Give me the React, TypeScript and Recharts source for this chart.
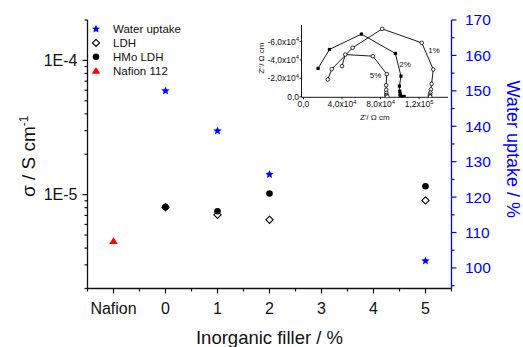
import { ScatterChart, Scatter, XAxis, YAxis, Legend, Label, ReferenceDot } from "recharts"

const FONT = '"Liberation Sans", Arial, Helvetica, sans-serif'
const BLUE = "#0000ff"
const RED = "#ff0000"
const INK = "#111111"

// main chart: x = inorganic filler %, -1 is the Nafion reference
const fillerTicks = [-1, 0, 1, 2, 3, 4, 5]
const fillerLabels = ["Nafion", "0", "1", "2", "3", "4", "5"]

const fillerPct = [0, 1, 2, 5]
const waterUptake = [150, 138.7, 126.4, 102]
const ldhSigma = [8.07e-6, 7.08e-6, 6.5e-6, 9.06e-6]
const hmoSigma = [8.1e-6, 7.53e-6, 1.02e-5, 1.155e-5]
const nafionPos = [-1]
const nafionSigma = [4.52e-6]

const seriesNames = ["Water uptake", "LDH", "HMo LDH", "Nafion 112"]

const sigmaMajor = [1e-5, 1e-4]
const sigmaLabels = ["1E-5", "1E-4"]
const uptakeMajor = [100, 110, 120, 130, 140, 150, 160, 170]

// inset: Nyquist plots (Z', -Z'')
const re1 = [25300, 29400, 51000, 81700, 122800, 134700, 133000, 132300, 131800, 131400, 131200, 131500]
const im1 = [18800, 30000, 53200, 73800, 58600, 29700, 14000, 8000, 4500, 2200, 900, 200]
const re2 = [15200, 27000, 60200, 95400, 101200, 99600, 99900, 100300, 100500, 101000, 102500, 104500]
const im2 = [30800, 51400, 68100, 47100, 22400, 11600, 6000, 3000, 1200, 400, 200, 300]
const re5 = [40000, 43400, 72100, 86500, 85800, 85900, 86000, 86100, 86300, 87000]
const im5 = [33300, 45900, 44100, 24600, 12500, 7500, 4200, 2000, 800, 200]
const insetReTicks = [0, 40000, 80000, 120000]
const insetImTicks = [0, 20000, 40000, 60000]
const curveLabels = ["1%", "2%", "5%"]
const curveLabelRe = [135500, 105500, 74800]
const curveLabelIm = [50600, 35400, 23500]

const pts = (xs: number[], ys: number[]) => xs.map((x, i) => ({ x, y: ys[i] }))

const xTicks = Array.from({ length: 15 }, (_, i) => -1.5 + i * 0.5)
const sigmaTicks = [1e-6, 1e-5, 1e-4]
  .flatMap((d) => [1, 2, 3, 4, 5, 6, 7, 8, 9].map((m) => m * d))
  .filter((v) => v >= 1.99e-6 && v <= 2.01e-4)
const uptakeTicks = Array.from({ length: 16 }, (_, i) => 95 + i * 5)

function star(cx: number, cy: number, r: number, fill: string) {
  const p: string[] = []
  for (let i = 0; i < 10; i++) {
    const rr = i % 2 === 0 ? r : r * 0.45
    const a = -Math.PI / 2 + (i * Math.PI) / 5
    p.push(`${cx + rr * Math.cos(a)},${cy + rr * Math.sin(a)}`)
  }
  return <polygon points={p.join(" ")} fill={fill} />
}
const diamond = (cx: number, cy: number, r: number) => (
  <path d={`M${cx},${cy - r}L${cx + r},${cy}L${cx},${cy + r}L${cx - r},${cy}Z`} fill="#fff" stroke="#000" strokeWidth={1.1} />
)
const dot = (cx: number, cy: number, r: number) => <circle cx={cx} cy={cy} r={r} fill="#000" />
const triangle = (cx: number, cy: number, fill: string) => (
  <path d={`M${cx},${cy - 3.8}L${cx + 4.3},${cy + 3}L${cx - 4.3},${cy + 3}Z`} fill={fill} />
)

const markerFor = (name: string, cx: number, cy: number) => {
  if (name === "Water uptake") return star(cx, cy, 4.4, BLUE)
  if (name === "LDH") return diamond(cx, cy, 3.6)
  if (name === "HMo LDH") return dot(cx, cy, 3.3)
  return triangle(cx, cy, RED)
}

function FillerTick(props: any) {
  const { x, y, payload } = props
  const v = payload.value
  const major = Number.isInteger(v)
  const i = fillerTicks.indexOf(v)
  return (
    <g>
      <line x1={x} x2={x} y1={y} y2={y + (major ? 5 : 3)} stroke={INK} strokeWidth={1.2} />
      {i >= 0 && (
        <text x={x} y={y + 25} textAnchor="middle" fontSize={16} fontFamily={FONT} fill={INK}>
          {fillerLabels[i]}
        </text>
      )}
    </g>
  )
}

function TopTick(props: any) {
  const { x, y, payload } = props
  const major = Number.isInteger(payload.value)
  return <line x1={x} x2={x} y1={y} y2={y - (major ? 4 : 2.5)} stroke={INK} strokeWidth={1.1} />
}

function SigmaTick(props: any) {
  const { x, y, payload } = props
  const i = sigmaMajor.findIndex((m) => Math.abs(m - payload.value) < m * 1e-6)
  return (
    <g>
      <line x1={x - (i >= 0 ? 5 : 3)} x2={x} y1={y} y2={y} stroke={INK} strokeWidth={1.2} />
      {i >= 0 && (
        <text x={x - 10} y={y} dy="0.35em" textAnchor="end" fontSize={16} fontFamily={FONT} fill={INK}>
          {sigmaLabels[i]}
        </text>
      )}
    </g>
  )
}

function UptakeTick(props: any) {
  const { x, y, payload } = props
  const major = uptakeMajor.includes(payload.value)
  return (
    <g>
      <line x1={x} x2={x + (major ? 5 : 3)} y1={y} y2={y} stroke={BLUE} strokeWidth={1.2} />
      {major && (
        <text x={x + 13.5} y={y} dy="0.35em" textAnchor="start" fontSize={15.5} fontFamily={FONT} fill={BLUE}>
          {payload.value}
        </text>
      )}
    </g>
  )
}

function sci(v: number, neg: boolean) {
  if (v === 0) return { mant: "0,0", exp: "" }
  const e = Math.floor(Math.log10(v))
  const m = (v / Math.pow(10, e)).toFixed(1).replace(".", ",")
  return { mant: `${neg ? "-" : ""}${m}x10`, exp: String(e) }
}

function InsetXTick(props: any) {
  const { x, y, payload } = props
  const s = sci(payload.value, false)
  return (
    <g>
      <line x1={x} x2={x} y1={y} y2={y + 2} stroke="#000" strokeWidth={0.8} />
      <text x={x} y={y + 10} textAnchor="middle" fontSize={8.5} fontFamily={FONT} fill={INK}>
        {s.mant}
        {s.exp && (
          <tspan dy={-3.5} fontSize={5.8}>
            {s.exp}
          </tspan>
        )}
      </text>
    </g>
  )
}

function InsetYTick(props: any) {
  const { x, y, payload } = props
  const s = sci(payload.value, true)
  return (
    <g>
      <line x1={x - 2} x2={x} y1={y} y2={y} stroke="#000" strokeWidth={0.8} />
      <text x={x - 2.5} y={y} dy="0.35em" textAnchor="end" fontSize={8.5} fontFamily={FONT} fill={INK}>
        {s.mant}
        {s.exp && (
          <tspan dy={-3.5} fontSize={5.8}>
            {s.exp}
          </tspan>
        )}
      </text>
    </g>
  )
}

function LegendBox(props: any) {
  const items = [...(props.payload || [])].sort(
    (a: any, b: any) => seriesNames.indexOf(a.value) - seriesNames.indexOf(b.value)
  )
  return (
    <svg width={120} height={62}>
      {items.map((it: any, i: number) => {
        const cy = 9 + i * 13.9
        return (
          <g key={it.value}>
            {markerFor(it.value, 8, cy)}
            <text x={25} y={cy} dy="0.35em" fontSize={11.5} fontFamily={FONT} fill={INK}>
              {it.value}
            </text>
          </g>
        )
      })}
    </svg>
  )
}

function Inset() {
  const openCircle = (p: any) => <circle cx={p.cx} cy={p.cy} r={1.8} fill="#fff" stroke="#000" strokeWidth={0.8} />
  const square = (p: any) => <rect x={p.cx - 1.6} y={p.cy - 1.6} width={3.2} height={3.2} fill="#000" />
  return (
    <ScatterChart width={215} height={120} margin={{ top: 15, right: 7, bottom: 0, left: 0 }}>
      <XAxis
        type="number"
        dataKey="x"
        domain={[-2000, 150000]}
        ticks={insetReTicks}
        interval={0}
        tickSize={0}
        tickMargin={0}
        tick={InsetXTick}
        axisLine={{ stroke: "#000", strokeWidth: 0.9 }}
        height={32.7}
        allowDataOverflow
      >
        <Label
          content={(p: any) => {
            const vb = p.viewBox
            return (
              <text x={vb.x + vb.width / 2} y={vb.y + 22.7} textAnchor="middle" fontSize={8} fontFamily={FONT} fill={INK}>
                Z'/ Ω cm
              </text>
            )
          }}
        />
      </XAxis>
      <XAxis xAxisId="t" orientation="top" type="number" domain={[-2000, 150000]} height={0} tick={false} tickLine={false} axisLine={{ stroke: "#000", strokeWidth: 0.9 }} allowDataOverflow />
      <YAxis
        type="number"
        dataKey="y"
        domain={[-600, 78000]}
        ticks={insetImTicks}
        interval={0}
        tickSize={0}
        tickMargin={0}
        tick={InsetYTick}
        axisLine={{ stroke: "#000", strokeWidth: 0.9 }}
        width={61.5}
        allowDataOverflow
      >
        <Label
          content={(p: any) => {
            const vb = p.viewBox
            const cx = vb.x + 21
            const cy = vb.y + vb.height / 2 - 3
            return (
              <text x={cx} y={cy} dy="0.35em" transform={`rotate(-90 ${cx} ${cy})`} textAnchor="middle" fontSize={8} fontFamily={FONT} fill={INK}>
                Z''/ Ω cm
              </text>
            )
          }}
        />
      </YAxis>
      <YAxis yAxisId="r" orientation="right" type="number" domain={[-600, 78000]} width={0} tick={false} tickLine={false} axisLine={{ stroke: "#000", strokeWidth: 0.9 }} allowDataOverflow />
      <Scatter data={pts(re1, im1)} line={{ stroke: "#000", strokeWidth: 0.9 }} shape={openCircle} isAnimationActive={false} />
      <Scatter data={pts(re2, im2)} line={{ stroke: "#000", strokeWidth: 0.9 }} shape={square} isAnimationActive={false} />
      <Scatter data={pts(re5, im5)} line={{ stroke: "#000", strokeWidth: 0.9 }} shape={openCircle} isAnimationActive={false} />
      {curveLabels.map((t, i) => (
        <ReferenceDot
          key={t}
          x={curveLabelRe[i]}
          y={curveLabelIm[i]}
          r={0}
          shape={(p: any) => (
            <text x={p.cx} y={p.cy} dy="0.35em" textAnchor="middle" fontSize={8} fontFamily={FONT} fill={INK}>
              {t}
            </text>
          )}
        />
      ))}
    </ScatterChart>
  )
}

export default function App() {
  return (
    <div style={{ position: "absolute", left: 0, top: 0, width: 523, height: 347, background: "#fff" }}>
      <ScatterChart width={523} height={347} margin={{ top: 20, right: 0, bottom: 0, left: 0 }}>
        <XAxis
          type="number"
          dataKey="x"
          domain={[-1.5, 5.5]}
          ticks={xTicks}
          interval={0}
          tickSize={0}
          tickMargin={0}
          tick={FillerTick}
          axisLine={{ stroke: INK, strokeWidth: 1.3 }}
          height={58.5}
          allowDataOverflow
        >
          <Label
            content={(p: any) => {
              const vb = p.viewBox
              return (
                <text x={vb.x + vb.width / 2} y={vb.y + 55.5} textAnchor="middle" fontSize={18.5} fontFamily={FONT} fill={INK}>
                  Inorganic filler / %
                </text>
              )
            }}
          />
        </XAxis>
        <XAxis
          xAxisId="top"
          orientation="top"
          type="number"
          domain={[-1.5, 5.5]}
          ticks={xTicks}
          interval={0}
          tickSize={0}
          tickMargin={0}
          tick={TopTick}
          axisLine={{ stroke: INK, strokeWidth: 1.3 }}
          height={0}
          allowDataOverflow
        />
        <YAxis
          yAxisId="s"
          type="number"
          dataKey="y"
          scale="log"
          domain={[2e-6, 2e-4]}
          ticks={sigmaTicks}
          interval={0}
          tickSize={0}
          tickMargin={0}
          tick={SigmaTick}
          axisLine={{ stroke: INK, strokeWidth: 1.3 }}
          width={87.5}
          allowDataOverflow
        >
          <Label
            content={(p: any) => {
              const vb = p.viewBox
              const cx = vb.x + 28
              const cy = vb.y + vb.height / 2 + 2
              return (
                <text x={cx} y={cy} dy="0.35em" transform={`rotate(-90 ${cx} ${cy})`} textAnchor="middle" fontSize={19} fontFamily={FONT} fill={INK}>
                  <tspan>σ / S cm</tspan>
                  <tspan dy={-7} fontSize={12}>
                    -1
                  </tspan>
                </text>
              )
            }}
          />
        </YAxis>
        <YAxis
          yAxisId="w"
          orientation="right"
          type="number"
          dataKey="y"
          domain={[94.2, 170]}
          ticks={uptakeTicks}
          interval={0}
          tickSize={0}
          tickMargin={0}
          tick={UptakeTick}
          axisLine={{ stroke: BLUE, strokeWidth: 1.3 }}
          width={71.5}
          allowDataOverflow
        >
          <Label
            content={(p: any) => {
              const vb = p.viewBox
              const cx = vb.x + 62
              const cy = vb.y + vb.height / 2 - 5
              return (
                <text x={cx} y={cy} dy="0.35em" transform={`rotate(90 ${cx} ${cy})`} textAnchor="middle" fontSize={18} fontFamily={FONT} fill={BLUE}>
                  Water uptake / %
                </text>
              )
            }}
          />
        </YAxis>
        <Legend
          layout="vertical"
          align="center"
          verticalAlign="middle"
          content={LegendBox}
          wrapperStyle={{ left: 88, top: 20, width: 120, height: 62 }}
        />
        <Scatter
          name={seriesNames[0]}
          yAxisId="w"
          data={pts(fillerPct, waterUptake)}
          fill={BLUE}
          shape={(p: any) => star(p.cx, p.cy, 4.4, BLUE)}
          isAnimationActive={false}
        />
        <Scatter
          name={seriesNames[1]}
          yAxisId="s"
          data={pts(fillerPct, ldhSigma)}
          fill="#000"
          shape={(p: any) => diamond(p.cx, p.cy, 3.6)}
          isAnimationActive={false}
        />
        <Scatter
          name={seriesNames[2]}
          yAxisId="s"
          data={pts(fillerPct, hmoSigma)}
          fill="#000"
          shape={(p: any) => dot(p.cx, p.cy, 3.3)}
          isAnimationActive={false}
        />
        <Scatter
          name={seriesNames[3]}
          yAxisId="s"
          data={pts(nafionPos, nafionSigma)}
          fill={RED}
          shape={(p: any) => triangle(p.cx, p.cy, RED)}
          isAnimationActive={false}
        />
      </ScatterChart>
      <div style={{ position: "absolute", left: 240, top: 10 }}>
        <Inset />
      </div>
    </div>
  )
}
